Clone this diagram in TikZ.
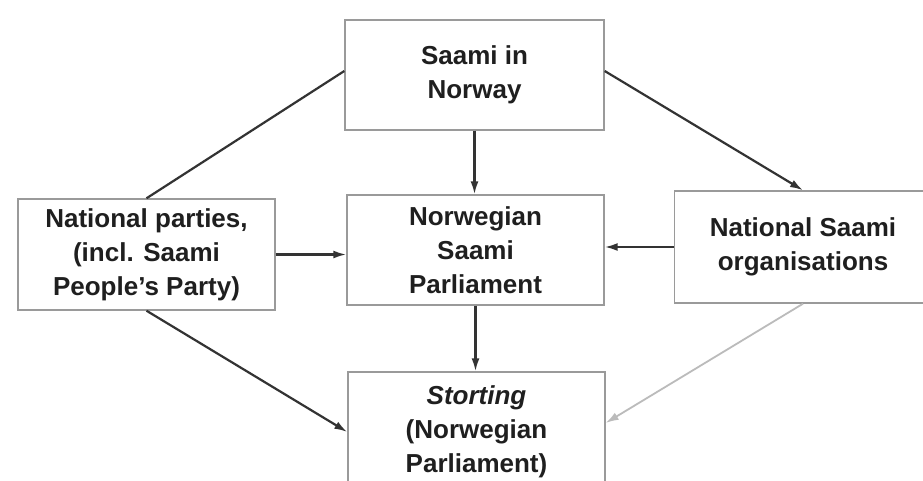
\documentclass[tikz,border=0pt]{standalone}
\usepackage{fontspec}
\setmainfont{Liberation Sans}
\usetikzlibrary{arrows.meta}
\definecolor{boxline}{HTML}{9A9A9A}
\definecolor{conn}{HTML}{333333}
\definecolor{lightconn}{HTML}{BBBBBB}
\begin{document}
\begin{tikzpicture}[x=1pt,y=-1pt,
  box/.style={draw=boxline, line width=1.4pt, fill=white, align=center,
    font=\fontsize{26}{34}\selectfont\bfseries, text=black!88,
    minimum width=257pt, inner sep=0pt},
  conn/.style={draw=conn, line width=2.2pt, -{Latex[length=13pt,width=8pt]}},
  plainconn/.style={draw=conn, line width=2.2pt},
  lightc/.style={draw=lightconn, line width=1.8pt, -{Latex[length=13pt,width=8pt]}}]
\useasboundingbox[fill=white] (0,0) rectangle (923,480);
\begin{scope}
\clip (0,0) rectangle (923,480);
\node[box, minimum height=110pt, minimum width=259pt] (T) at (474.5,75) {Saami in\\Norway};
\node[box, minimum height=110pt] (M) at (475.5,250) {Norwegian\\Saami\\Parliament};
\node[box, minimum height=111pt] (L) at (146.5,254.5) {National parties,\\(incl. Saami\\People’s Party)};
\node[box, minimum height=112pt] (R) at (803,247) {National Saami\\organisations};
\node[box, minimum height=120pt] (S) at (476.5,432) {\textit{Storting}\\(Norwegian\\Parliament)};
\end{scope}
\draw[conn] (T.south) -- (T.south |- M.north);
\draw[conn] (M.south) -- (M.south |- S.north);
\draw[conn] (L.east) -- (L.east -| M.west);
\draw[conn] (R.west) -- (R.west -| M.east);
\draw[plainconn] ([yshift=4pt]T.west) -- (L.north);
\draw[conn] ([yshift=4pt]T.east) -- (R.north);
\draw[conn] (L.south) -- (S.west);
\draw[lightc] (R.south) -- ([yshift=9pt]S.east);
\end{tikzpicture}
\end{document}
